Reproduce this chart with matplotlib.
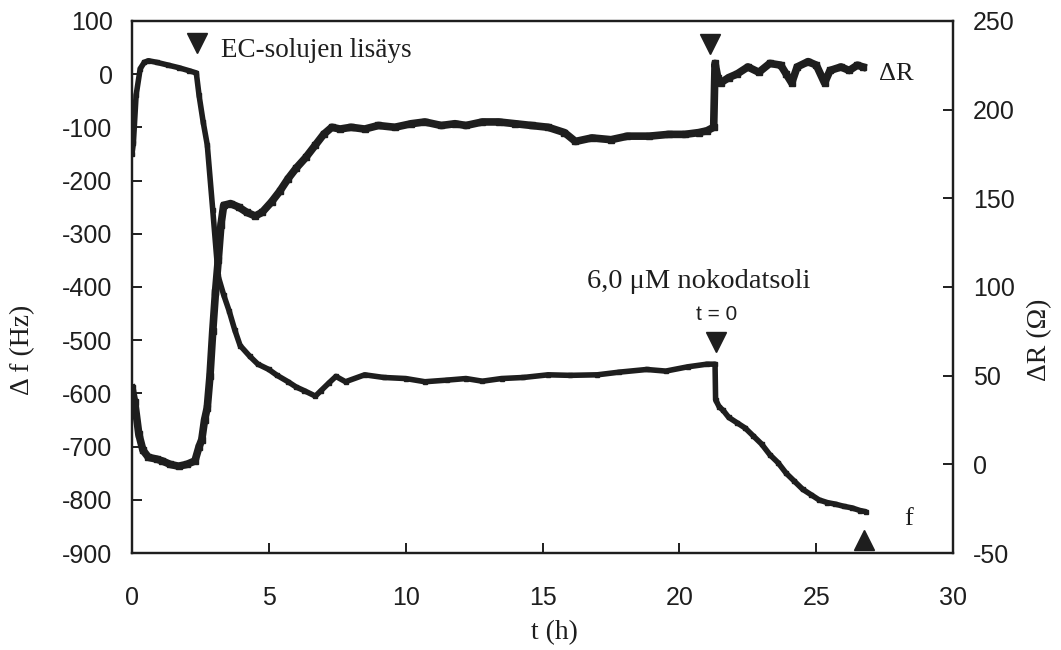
import matplotlib
matplotlib.use("Agg")
import matplotlib.pyplot as plt

# time axis ticks
x_ticks = [0, 5, 10, 15, 20, 25, 30]
f_ticks = [-900, -800, -700, -600, -500, -400, -300, -200, -100, 0, 100]
r_ticks = [-50, 0, 50, 100, 150, 200, 250]

# frequency shift (left axis)
t_f = [0, 0.05, 0.15, 0.3, 0.45, 0.6, 0.9, 1.3, 1.7, 2.1, 2.35, 2.45, 2.6, 2.75,
       2.95, 3.15, 3.35, 3.55, 3.75, 3.95, 4.3, 4.6, 5.0, 5.3, 5.7, 6.0, 6.3, 6.7,
       6.9, 7.2, 7.45, 7.8, 8.5, 9.2, 10.0, 10.7, 11.5, 12.2, 12.8, 13.5, 14.3,
       15.2, 16.0, 17.0, 17.8, 18.8, 19.5, 20.3, 21.0, 21.3, 21.32, 21.45, 21.6,
       21.8, 22.1, 22.4, 22.7, 23.0, 23.3, 23.6, 23.9, 24.2, 24.5, 24.8, 25.1,
       25.4, 25.7, 26.0, 26.3, 26.6, 26.8]
df = [-150, -130, -40, 10, 22, 25, 22, 17, 12, 6, 2, -40, -90, -133,
      -255, -380, -415, -445, -480, -510, -530, -545, -555, -566, -578, -588, -595, -605,
      -595, -580, -568, -578, -565, -570, -572, -578, -575, -572, -577, -572, -570,
      -565, -566, -565, -560, -555, -558, -550, -545, -545, -612, -625, -632,
      -645, -655, -665, -680, -695, -715, -730, -750, -765, -780, -790, -800,
      -805, -808, -812, -815, -820, -822]

# resistance shift (right axis)
t_r = [0, 0.1, 0.25, 0.4, 0.6, 0.9, 1.1, 1.4, 1.7, 2.0, 2.3, 2.45, 2.55, 2.65,
       2.75, 2.85, 2.95, 3.05, 3.15, 3.25, 3.35, 3.6, 3.9, 4.2, 4.5, 4.75, 5.1,
       5.4, 5.7, 6.0, 6.35, 6.7, 7.0, 7.3, 7.6, 8.0, 8.5, 9.0, 9.6, 10.2, 10.7,
       11.3, 11.8, 12.2, 12.8, 13.4, 14.0, 14.6, 15.2, 15.8, 16.2, 16.8, 17.5,
       18.1, 18.9, 19.6, 20.2, 20.7, 21.0, 21.25, 21.3, 21.4, 21.5, 21.8, 22.1,
       22.5, 22.9, 23.3, 23.7, 23.9, 24.1, 24.3, 24.7, 25.0, 25.3, 25.5, 25.9,
       26.2, 26.5, 26.7]
dR = [43, 35, 17, 8, 4, 3, 2, 0, -1, 0, 2, 10, 14, 25,
      32, 50, 75, 97, 115, 135, 146, 147, 145, 142, 140, 142, 148,
      154, 161, 167, 173, 180, 186, 190, 189, 190, 189, 191, 190, 192, 193,
      191, 192, 191, 193, 193, 192, 191, 190, 187, 182, 184, 183,
      185, 185, 186, 186, 187, 188, 190, 226, 218, 215, 218, 220,
      224, 221, 226, 225, 220, 215, 224, 227, 225, 215, 222, 224,
      222, 225, 224]

# event markers: (t, Δf, direction)
events_t = [2.37, 21.1, 21.35, 26.75]
events_f = [58, 57, -503, -876]
events_m = ['v', 'v', 'v', '^']

ink = '#1e1e1e'
serif = ['Liberation Serif', 'DejaVu Serif']
sans = ['Liberation Sans', 'DejaVu Sans']
plt.rcParams['font.family'] = sans
plt.rcParams['axes.unicode_minus'] = False

fig = plt.figure(figsize=(10.61, 6.5), dpi=100)
ax = fig.add_axes([0.1244, 0.149, 0.774, 0.819])
ax2 = ax.twinx()

ax.plot(t_f, df, '-', color=ink, lw=4, marker='s', ms=3, solid_capstyle='round')
ax2.plot(t_r, dR, '-', color=ink, lw=5.5, marker='s', ms=5)

for tt, yy, m in zip(events_t, events_f, events_m):
    ax.plot(tt, yy, marker=m, color=ink, ms=15, ls='none', clip_on=False)

ax.set_xlim(0, 30)
ax.set_ylim(-900, 100)
ax2.set_ylim(-50, 250)
ax.set_xticks(x_ticks)
ax.set_yticks(f_ticks)
ax2.set_yticks(r_ticks)

for a in (ax, ax2):
    for s in a.spines.values():
        s.set_linewidth(1.6)
        s.set_color(ink)
ax.tick_params(axis='both', direction='in', length=7, width=1.4, colors=ink,
               labelsize=18, top=False, right=False)
ax.tick_params(axis='x', pad=24)
ax.tick_params(axis='y', pad=14)
ax2.tick_params(axis='y', direction='in', length=7, width=1.4, colors=ink,
                labelsize=18, pad=14)

ax.text(3.25, 44, 'EC-solujen lisäys', family=serif, fontsize=19.5, color=ink,
        ha='left', va='center')
ax.text(27.3, 0, 'ΔR', family=serif, fontsize=19, color=ink, ha='left', va='center')
ax.text(28.2, -835, 'f', family=serif, fontsize=19, color=ink, ha='left', va='center')
ax.text(20.7, -390, '6,0 μM nokodatsoli', family=serif, fontsize=20.5, color=ink,
        ha='center', va='center')
ax.text(21.35, -452, 't = 0', fontsize=15, color=ink, ha='center', va='center')

fig.text(0.021, 0.462, 'Δ f (Hz)', family=serif, fontsize=20, color=ink,
         rotation=90, ha='center', va='center')
fig.text(0.980, 0.477, 'ΔR (Ω)', family=serif, fontsize=20, color=ink,
         rotation=90, ha='center', va='center')
fig.text(0.523, 0.026, 't (h)', family=serif, fontsize=20, color=ink,
         ha='center', va='center')

fig.savefig('out.png', dpi=100, facecolor='white')
